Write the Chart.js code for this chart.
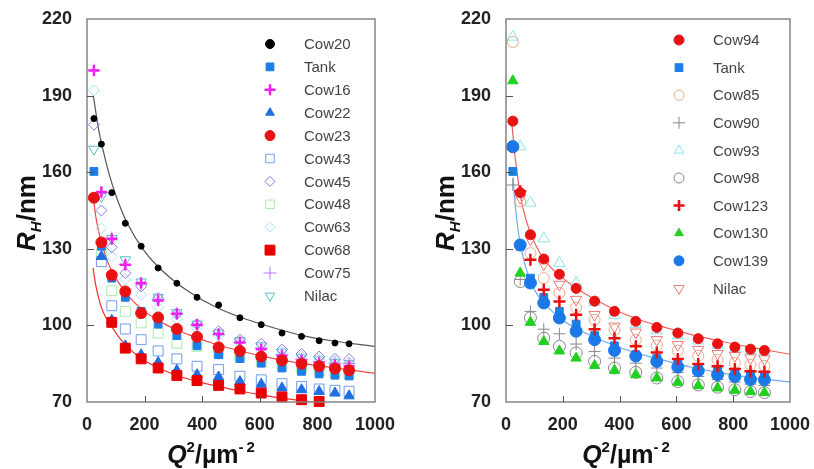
<!DOCTYPE html>
<html>
<head>
<meta charset="utf-8">
<script src="https://cdn.jsdelivr.net/npm/chart.js@4.4.1/dist/chart.umd.min.js"></script>
<style>
  html, body { margin: 0; padding: 0; background: #fff; }
  #wrap { position: relative; width: 814px; height: 469px; }
  .panel { position: absolute; top: 0; height: 469px; }
  #left { left: 0; width: 410px; }
  #right { left: 410px; width: 404px; }
</style>
</head>
<body>
<div id="wrap">
  <div class="panel" id="left"><canvas id="cLeft" width="410" height="469"></canvas></div>
  <div class="panel" id="right"><canvas id="cRight" width="404" height="469"></canvas></div>
</div>
<script>
// Q^2 (um^-2) of each measuring angle, shared by all samples
var q2 = [24, 50, 86, 133, 188, 247, 312, 382, 457, 531, 605, 677, 745, 806, 861, 910];
var yTicks = [70, 100, 130, 160, 190, 220];
var xTicks = [0, 200, 400, 600, 800, 1000];

// left panel, R_H (nm)
var cow20 = [181, 171, 152, 140, 131, 122.5, 116.5, 111, 108, 103, 100.3, 97, 95.7, 94, 93.1, 92.8];
var tank = [160.3, 131, 118.5, 111, 105.5, 100.5, 96, 92, 88.5, 87, 85.2, 83.3, 82, 81, 80.5, 80.2];
var cow16 = [199.8, 152.2, 133.8, 123.8, 116.6, 109.8, 104.6, 100.3, 96.6, 93.3, 90.7, 88.1, 86.3, 85.3, 84.5, 84];
var cow22 = [null, 127, 102, 92, 88.5, 85.5, 82.4, 80.7, 79.8, 78, 77, 75.5, 74.8, 74.1, 73.5, 72.4];
var cow23 = [150, 132.5, 119.7, 113.3, 104.8, 103.1, 98.6, 95.5, 91.4, 90, 87.8, 86.3, 85, 84, 83.1, 82.4];
var cow43 = [null, 125, 107.7, 98.6, 94.4, 90, 86.9, 84, 82.7, 80.1, 78.7, 77.2, 76.1, 75.1, 74.6, 74.2];
var cow45 = [178.6, 145, 130.6, 120.5, 115.3, 110.7, 104.5, 100.5, 97.7, 94.4, 92.8, 90.5, 88.8, 87.8, 86.9, 86.8];
var cow48 = [null, 128, 113.6, 105.5, 101, 97, 93, 91.8, 89.2, 87.5, 86, 84.5, 83.3, 82.3, 81.6, 81];
var cow63 = [192, 138, 127, 118, 112, 107, 102.5, 99, 96, 93.5, 91.5, 89.5, 88, 87, 86, 85.5];
var cow68 = [null, null, 101.2, 91.1, 86.9, 83.3, 80.4, 78.4, 76.5, 75.1, 73.5, 72, 70.9, 70.2, null, null];
var cow75 = [200, 152, 134.2, 123.8, 116.2, 110, 104.6, 99.9, 96.4, 93.3, 91.1, 88.5, 86.8, 85.9, 85.2, 85];
var nilacL = [169, 150.5, 134, 125.7, 117, 111, 105, 100.5, 97, 94, 92, 89.5, 87.5, 86.5, 85.5, 85];

// left panel fitted curves
var fitX = [22, 30, 40, 55, 75, 100, 140, 200, 270, 350, 450, 550, 650, 750, 850, 1000];
var fit20 = [190, 184, 177, 169, 160, 151, 140, 129, 120.5, 113.5, 107, 102.5, 99, 96, 94, 91.8];
var fit23 = [150, 143, 137, 130.5, 124, 118.5, 112, 105.5, 100.5, 96.5, 92.5, 89.5, 87, 85, 83.5, 81.2];
var fit68X = [21, 30, 40, 50, 65, 86, 110, 133, 188, 247, 312, 382, 457, 531, 605, 677, 745, 820];
var fit68 = [122.5, 116, 111, 107, 103.2, 99.5, 95.5, 92.5, 87, 83.4, 80.4, 78.1, 76.1, 74.3, 72.8, 71.5, 70.5, 69.3];

// right panel, R_H (nm)
var cow94 = [180, 152, 135.5, 126, 120, 114.5, 109.5, 105.5, 101.6, 99.2, 97, 94.8, 92.8, 91.5, 90.7, 90.2];
var cow85 = [211, 148.6, 128.3, 118.5, 112.7, 107, 102.2, 98.2, 94.4, 92.1, 90.1, 88.1, 86.5, 85.3, 84.6, 84.2];
var cow90 = [155, 118, 105.5, 98.5, 96.7, 92.7, 89.8, 87.2, 85.2, 83.3, 81.5, 80, 78.8, 77.8, 77, 76.5];
var cow93 = [213, 170, 148, 134, 124.4, 116.6, 109, 104, 100.5, 98, 96, 94, 92.3, 91, 90.2, 89.6];
var cow98 = [170, 117.2, 103, 95, 91.8, 89.2, 85.9, 83.3, 81.6, 79.4, 78, 76.7, 75.8, 74.8, 74.1, 73.7];
var cow123 = [null, 152.5, 125.7, 114, 109.4, 104.2, 98.5, 95, 91.8, 89.4, 86.8, 84.9, 84, 82.9, 82, 81.8];
var cow130 = [195.8, 120.5, 101.2, 93.7, 90, 87.2, 84.3, 82.4, 80.7, 79.4, 77.7, 76.4, 75.5, 74.6, 74.1, 73.7];
var cow139 = [170, 131.5, 116.6, 108.8, 102.9, 97.7, 94.4, 90.2, 88, 85.9, 83.7, 82.2, 80.7, 80, 78.8, 78.7];
var nilacR = [null, 150, 133.8, 124, 116, 110.1, 104.2, 99.6, 97.3, 94.4, 92.4, 90.5, 88.9, 88.1, 87.2, 86.8];

// right panel fitted curves
var fit94X = [20, 30, 40, 50, 70, 100, 140, 200, 270, 350, 450, 550, 650, 750, 850, 1000];
var fit94 = [180, 168, 159, 151, 141.5, 132.5, 125, 118.5, 113, 108, 103, 99.5, 96.5, 94, 91.7, 88.7];
var fit139X = [25, 30, 40, 50, 70, 100, 140, 200, 270, 350, 450, 550, 650, 750, 850, 1000];
var fit139 = [158, 150, 139.5, 132, 122.5, 114, 108, 102, 97.5, 93.5, 89.5, 86.5, 83.7, 81.5, 79.8, 77.8];

var FONT = '"Liberation Sans", Arial, sans-serif';

function pts(xs, ys) {
  return xs.map(function (x, i) { return { x: x, y: ys[i] }; });
}

function marks(label, ys, style, color, r, filled, bw, order, extra) {
  var d = {
    label: label,
    data: pts(q2, ys),
    showLine: false,
    pointStyle: style,
    pointRadius: r,
    pointHoverRadius: r,
    pointBackgroundColor: filled ? color : 'rgba(0,0,0,0)',
    pointBorderColor: color,
    pointBorderWidth: bw,
    pointRotation: 0,
    legendR: r,
    order: order,
    clip: false
  };
  for (var k in extra || {}) d[k] = extra[k];
  return d;
}

function curve(xs, ys, color) {
  return {
    label: '',
    fit: true,
    data: pts(xs, ys),
    showLine: true,
    borderColor: color,
    borderWidth: 1.2,
    pointRadius: 0,
    cubicInterpolationMode: 'monotone',
    order: 30
  };
}

// legend drawn inside the plot, plus frame, inward ticks and axis titles
var decor = {
  id: 'decor',
  afterDraw: function (chart, args, o) {
    var ctx = chart.ctx, a = chart.chartArea;
    var xs = chart.scales.x, ys = chart.scales.y;
    ctx.save();
    ctx.strokeStyle = '#858585';
    ctx.lineWidth = 1.5;
    ctx.strokeRect(a.left, a.top, a.right - a.left, a.bottom - a.top);
    ctx.strokeStyle = '#555';
    ctx.lineWidth = 1;
    xTicks.slice(1, -1).forEach(function (v) {
      var px = Math.round(xs.getPixelForValue(v)) + 0.5;
      ctx.beginPath(); ctx.moveTo(px, a.bottom); ctx.lineTo(px, a.bottom - 6); ctx.stroke();
    });
    yTicks.slice(1, -1).forEach(function (v) {
      var py = Math.round(ys.getPixelForValue(v)) + 0.5;
      ctx.beginPath(); ctx.moveTo(a.left, py); ctx.lineTo(a.left + 7, py); ctx.stroke();
    });

    // legend
    var items = chart.data.datasets.filter(function (d) { return !d.fit; });
    items.forEach(function (d, i) {
      var y = o.ly0 + i * o.ldy;
      ctx.fillStyle = d.pointBackgroundColor;
      ctx.strokeStyle = d.pointBorderColor;
      ctx.lineWidth = d.pointBorderWidth;
      Chart.helpers.drawPoint(ctx, {
        pointStyle: d.pointStyle, radius: d.legendR,
        rotation: d.pointRotation, borderWidth: d.pointBorderWidth
      }, o.lmx, y);
      ctx.fillStyle = '#444';
      ctx.font = '15px ' + FONT;
      ctx.textAlign = 'left';
      ctx.textBaseline = 'middle';
      ctx.fillText(d.label, o.ltx, y + 1);
    });

    // y title: R_H/nm
    ctx.fillStyle = '#111';
    ctx.textBaseline = 'alphabetic';
    ctx.textAlign = 'left';
    ctx.save();
    ctx.translate(o.ytx, 213);
    ctx.rotate(-Math.PI / 2);
    var fR = 'italic bold 26px ' + FONT, fH = 'italic bold 15px ' + FONT, fN = 'bold 26px ' + FONT;
    ctx.font = fR; var wR = ctx.measureText('R').width;
    ctx.font = fH; var wH = ctx.measureText('H').width;
    ctx.font = fN; var wN = ctx.measureText('/nm').width;
    var s = -(wR + wH + wN) / 2;
    ctx.font = fR; ctx.fillText('R', s, 9);
    ctx.font = fH; ctx.fillText('H', s + wR, 15);
    ctx.font = fN; ctx.fillText('/nm', s + wR + wH, 9);
    ctx.restore();

    // x title: Q^2/um^-2
    var fQ = 'italic bold 25px ' + FONT, fS = 'bold 15px ' + FONT, fU = 'bold 25px ' + FONT;
    ctx.font = fQ; var wQ = ctx.measureText('Q').width;
    ctx.font = fS; var w2 = ctx.measureText('2').width, wm = ctx.measureText('-').width;
    ctx.font = fU; var wU = ctx.measureText('/\u00b5m').width;
    var tot = wQ + w2 + wU + wm + 3 + w2;
    var x0 = o.xtx - tot / 2, by = 463;
    ctx.font = fQ; ctx.fillText('Q', x0, by); x0 += wQ;
    ctx.font = fS; ctx.fillText('2', x0, by - 11); x0 += w2;
    ctx.font = fU; ctx.fillText('/\u00b5m', x0, by); x0 += wU;
    ctx.font = fS; ctx.fillText('-', x0, by - 11); x0 += wm + 3;
    ctx.fillText('2', x0, by - 11);
    ctx.restore();
  }
};

function plain(v) { return String(v); }

function makeChart(id, datasets, yWidth, padRight, deco) {
  return new Chart(document.getElementById(id), {
    type: 'scatter',
    data: { datasets: datasets },
    plugins: [decor],
    options: {
      responsive: false,
      animation: false,
      layout: { padding: { top: 19, right: padRight, bottom: 0, left: 0 } },
      plugins: { legend: { display: false }, tooltip: { enabled: false }, decor: deco },
      scales: {
        x: {
          type: 'linear', min: 0, max: 1000,
          grid: { display: false }, border: { display: false },
          afterBuildTicks: function (s) { s.ticks = xTicks.map(function (v) { return { value: v }; }); },
          afterFit: function (s) { s.height = 67; },
          ticks: { color: '#222', padding: 4, maxRotation: 0, callback: plain, font: { family: FONT, size: 18, weight: 'bold' } }
        },
        y: {
          type: 'linear', min: 70, max: 220,
          grid: { display: false }, border: { display: false },
          afterBuildTicks: function (s) { s.ticks = yTicks.map(function (v) { return { value: v }; }); },
          afterFit: function (s) { s.width = yWidth; },
          ticks: { color: '#222', padding: 7, callback: plain, font: { family: FONT, size: 18, weight: 'bold' } }
        }
      }
    }
  });
}

var leftSets = [
  marks('Cow20', cow20, 'circle', '#000000', 3, true, 1, 1, { legendR: 4.5 }),
  marks('Tank', tank, 'rect', '#1a7fe6', 5.5, true, 1, 5),
  marks('Cow16', cow16, 'cross', '#f020f0', 5.5, true, 2.5, 6),
  marks('Cow22', cow22, 'triangle', '#1f6fe0', 6, true, 1, 4, { legendR: 5 }),
  marks('Cow23', cow23, 'circle', '#e81212', 5.5, true, 1, 3, { legendR: 5 }),
  marks('Cow43', cow43, 'rect', '#6f9cf0', 7, false, 1, 9, { legendR: 6 }),
  marks('Cow45', cow45, 'rectRot', '#8878e0', 5.5, false, 1, 8, { legendR: 5 }),
  marks('Cow48', cow48, 'rect', '#a8eca8', 7, false, 1, 10, { legendR: 6 }),
  marks('Cow63', cow63, 'rectRot', '#a8e4f4', 5.5, false, 1, 11, { legendR: 5 }),
  marks('Cow68', cow68, 'rect', '#e80000', 7, true, 1, 2),
  marks('Cow75', cow75, 'cross', '#b878ee', 6.5, true, 1, 7),
  marks('Nilac', nilacL, 'triangle', '#58bcc4', 6, false, 1, 12, { pointRotation: 180, legendR: 5.5 }),
  curve(fitX, fit20, '#555555'),
  curve(fitX, fit23, '#f04848'),
  curve(fit68X, fit68, '#f03030')
];

var rightSets = [
  marks('Cow94', cow94, 'circle', '#e81212', 5, true, 1, 1),
  marks('Tank', tank, 'rect', '#1a7fe6', 5.5, true, 1, 4),
  marks('Cow85', cow85, 'circle', '#e8aa88', 5.5, false, 1, 9, { legendR: 5 }),
  marks('Cow90', cow90, 'cross', '#888888', 6, true, 1, 7),
  marks('Cow93', cow93, 'triangle', '#88e4f0', 6.5, false, 1, 10, { legendR: 5.5 }),
  marks('Cow98', cow98, 'circle', '#888888', 6, false, 1, 6, { legendR: 5 }),
  marks('Cow123', cow123, 'cross', '#e81010', 6, true, 2.5, 2, { legendR: 5.5 }),
  marks('Cow130', cow130, 'triangle', '#22d022', 6, true, 1, 5, { legendR: 5 }),
  marks('Cow139', cow139, 'circle', '#1a78e8', 6, true, 1, 3, { legendR: 5 }),
  marks('Nilac', nilacR, 'triangle', '#f07878', 6.5, false, 1, 8, { pointRotation: 180, legendR: 6 }),
  curve(fit94X, fit94, '#f06060'),
  curve(fit139X, fit139, '#72a8f0')
];

makeChart('cLeft', leftSets, 87, 35, { lmx: 270, ltx: 304, ly0: 44, ldy: 22.9, ytx: 26, xtx: 211 });
makeChart('cRight', rightSets, 96, 21, { lmx: 269, ltx: 303, ly0: 40, ldy: 27.6, ytx: 35, xtx: 216 });
</script>
</body>
</html>
